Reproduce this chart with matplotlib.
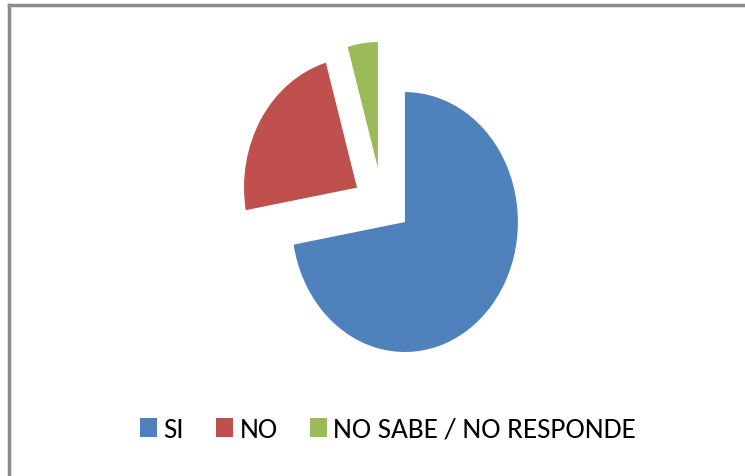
import matplotlib.pyplot as plt
from matplotlib.lines import Line2D

labels = ["SI", "NO", "NO SABE / NO RESPONDE"]
counts = [65, 21, 4]
colors = ["#4f81bd", "#c0504d", "#9bbb59"]
explode = [0, 0.5, 0.5]

fig = plt.figure(figsize=(7.45, 4.76), dpi=100)
ax = fig.add_axes([0.316, 0.124, 0.455, 0.819])

wedges, _ = ax.pie(counts, colors=colors, startangle=90, counterclock=False,
                   explode=explode, radius=1.0)
# the small slice sits a bit further left than its bisector would put it
wedges[2].set_center((-0.239, 0.415))
wedges[2].set_radius(0.97)
ax.set_aspect("auto")
ax.set_xlim(-1.5, 1.5)
ax.set_ylim(-1.5, 1.5)
ax.axis("off")

# chart area frame (left and top edges visible)
fig.add_artist(Line2D([0.0125, 0.0125], [0.0, 0.9895], transform=fig.transFigure,
                      color="#8c8c8c", linewidth=2.5))
fig.add_artist(Line2D([0.0125, 1.0], [0.9895, 0.9895], transform=fig.transFigure,
                      color="#8c8c8c", linewidth=2.5))

fig.legend(wedges, labels, loc="center", bbox_to_anchor=(0.521, 0.096), ncol=3,
           frameon=False, handlelength=0.58, handleheight=0.65, handletextpad=0.22,
           columnspacing=1.1, borderpad=0, prop={"family": ["Carlito", "DejaVu Sans"], "size": 21})

fig.savefig("out.png", dpi=100)
